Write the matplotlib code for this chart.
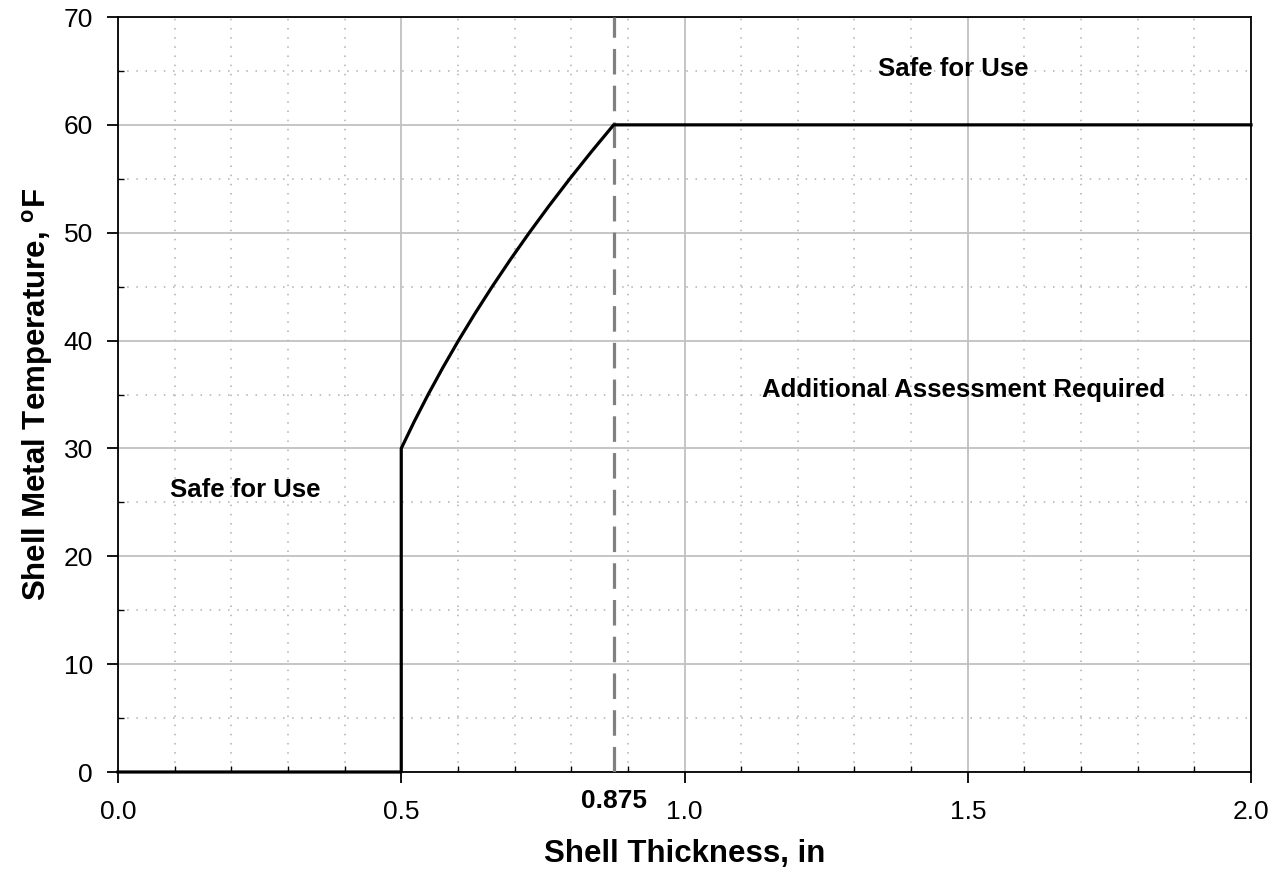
import matplotlib
matplotlib.use("Agg")
import matplotlib.pyplot as plt
from matplotlib.ticker import MultipleLocator
import matplotlib.transforms as mtransforms

plt.rcParams['font.family'] = ['Liberation Sans', 'DejaVu Sans']
plt.rcParams['mathtext.fontset'] = 'custom'
plt.rcParams['mathtext.rm'] = 'Liberation Sans'
plt.rcParams['mathtext.bf'] = 'Liberation Sans:bold'

# Data: curve of minimum shell metal temperature vs thickness
thickness = [0.0, 0.5, 0.5, 0.523, 0.5475, 0.5735, 0.601, 0.630, 0.6605,
             0.6925, 0.726, 0.761, 0.7975, 0.8355, 0.875, 2.0]
temperature = [0, 0, 30, 32.5, 35, 37.5, 40, 42.5, 45,
               47.5, 50, 52.5, 55, 57.5, 60, 60]
marker_x = 0.875
marker_label = "0.875"

annotations = [
    ("Safe for Use", 1.474, 65.2),
    ("Additional Assessment Required", 1.492, 35.4),
    ("Safe for Use", 0.224, 26.1),
]

x_ticks = [0.0, 0.5, 1.0, 1.5, 2.0]
y_ticks = [0, 10, 20, 30, 40, 50, 60, 70]

fig = plt.figure(figsize=(12.81, 8.86), dpi=100)
ax = fig.add_axes([118/1281, 1-772/886, (1251-118)/1281, (772-17)/886])

ax.set_xlim(0, 2.0)
ax.set_ylim(0, 70)
ax.set_xticks(x_ticks)
ax.set_xticklabels([f"{v:.1f}" for v in x_ticks])
ax.set_yticks(y_ticks)
ax.xaxis.set_minor_locator(MultipleLocator(0.1))
ax.yaxis.set_minor_locator(MultipleLocator(5))

ax.grid(which='major', color='#c0c0c0', linewidth=1.3, linestyle='-')
ax.grid(which='minor', color='#b0b0b0', linewidth=1.1, linestyle=(0, (1, 5)))
ax.set_axisbelow(True)

ax.tick_params(which='major', direction='out', length=8, width=1.3,
               labelsize=19, colors='black')
ax.tick_params(axis='x', which='major', pad=12)
ax.tick_params(axis='y', which='major', pad=10)
ax.tick_params(which='minor', direction='in', length=4, width=1.0)
for s in ax.spines.values():
    s.set_linewidth(1.3)
    s.set_color('black')

ax.axvline(marker_x, color='#808080', linewidth=2.3, dashes=(8, 3.5), zorder=3)
ax.plot(thickness, temperature, color='black', linewidth=2.3, zorder=4,
        clip_on=False, solid_joinstyle='round')

trans = mtransforms.blended_transform_factory(ax.transData, ax.transAxes)
ax.text(marker_x, -0.022, marker_label, transform=trans, ha='center', va='top',
        fontsize=19, fontweight='bold')

for txt, x, y in annotations:
    ax.text(x, y, txt, ha='center', va='center', fontsize=18.5, fontweight='bold')

ax.set_xlabel("Shell Thickness, in", fontsize=22.5, fontweight='bold', labelpad=11)
ax.set_ylabel(r"Shell Metal Temperature, $^{\mathbf{o}}$F", fontsize=22.5,
              fontweight='bold', labelpad=6)

fig.savefig("out.png", dpi=100)
